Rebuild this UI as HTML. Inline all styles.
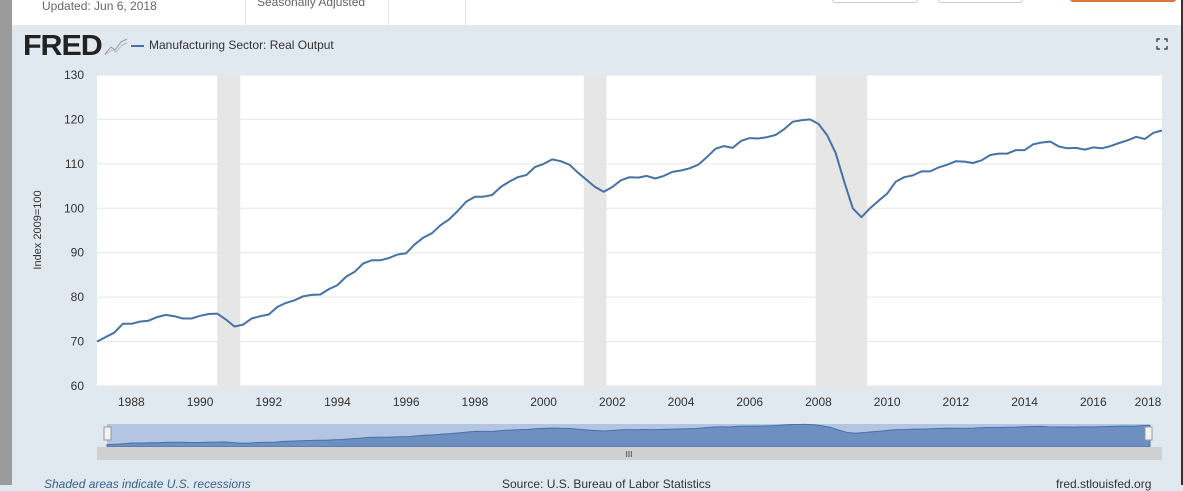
<!DOCTYPE html>
<html><head><meta charset="utf-8"><style>
body{margin:0;width:1183px;height:485px;overflow:hidden;background:#e1e9f0;font-family:"Liberation Sans",sans-serif;position:relative}
.abs{position:absolute}
</style></head><body>
<div class="abs" style="left:0;top:0;width:12px;height:485px;background:#9b9b9b"></div>
<div class="abs" style="left:1181px;top:0;width:2px;height:485px;background:#333"></div>
<div class="abs" style="left:12px;top:0;width:1169px;height:25px;background:#fff">
 <div class="abs" style="left:30px;top:-1px;font-size:12px;color:#666">Updated: Jun 6, 2018</div>
 <div class="abs" style="left:233px;top:0;width:1px;height:25px;background:#e4e4e4"></div>
 <div class="abs" style="left:245px;top:-5px;font-size:12px;color:#666">Seasonally Adjusted</div>
 <div class="abs" style="left:376px;top:0;width:1px;height:25px;background:#e4e4e4"></div>
 <div class="abs" style="left:453px;top:0;width:1px;height:25px;background:#e4e4e4"></div>
 <div class="abs" style="left:820px;top:-5px;width:84px;height:6px;border:1px solid #ccc;border-radius:3px"></div>
 <div class="abs" style="left:926px;top:-5px;width:83px;height:6px;border:1px solid #ccc;border-radius:3px"></div>
 <div class="abs" style="left:1058px;top:-5px;width:106px;height:7px;background:#d9763a;border-radius:3px"></div>
</div>
<div class="abs" style="left:23px;top:30px;font-size:29px;font-weight:bold;color:#222;letter-spacing:-1px;transform:scaleX(1.05);transform-origin:left">FRED</div>
<svg class="abs" style="left:104px;top:36px" width="24" height="20"><path d="M1 18 L7 11 L11 14 L17 6 L23 3" stroke="#999" fill="none"/><path d="M1 19 L8 14 L12 16 L18 9 L23 7" stroke="#bbb" fill="none"/></svg>
<div class="abs" style="left:131px;top:45px;width:13px;height:2px;background:#4572a7"></div>
<div class="abs" style="left:149px;top:38px;font-size:12px;color:#333">Manufacturing Sector: Real Output</div>
<svg class="abs" style="left:1156px;top:38px" width="12" height="12"><path d="M1 4V1H4M8 1H11V4M11 8V11H8M4 11H1V8" stroke="#333" fill="none" stroke-width="1.3"/></svg>
<svg id="chart" class="abs" style="left:0;top:0" width="1183" height="485"></svg>
<div class="abs" style="left:44px;top:477px;font-size:12px;font-style:italic;color:#3a5f8f">Shaded areas indicate U.S. recessions</div>
<div class="abs" style="left:502px;top:477px;font-size:12px;color:#333">Source: U.S. Bureau of Labor Statistics</div>
<div class="abs" style="left:1056px;top:477px;font-size:12px;color:#333">fred.stlouisfed.org</div>
<script>
const startYear = 1987;
const values = [70,71,72,74, 74,74.5,74.7,75.5, 76,75.7,75.2,75.2, 75.8,76.2,76.3,75, 73.4,73.8,75.2,75.7, 76.1,77.8,78.7,79.3, 80.2,80.5,80.6,81.8, 82.7,84.6,85.7,87.6, 88.3,88.3,88.8,89.6, 89.9,91.9,93.4,94.4, 96.2,97.5,99.4,101.5, 102.6,102.6,103,104.8, 106,107,107.5,109.3, 110,111,110.6,109.8, 108,106.4,104.8,103.7, 104.8,106.3,107,106.9, 107.3,106.7,107.3,108.2, 108.5,109,109.8,111.5, 113.4,114,113.6,115.2, 115.8,115.7,116,116.5, 117.8,119.5,119.8,120, 119,116.5,112.5,106, 100,98,100,101.7, 103.3,106,107,107.4, 108.3,108.3,109.2,109.8, 110.6,110.5,110.2,110.8, 112,112.3,112.3,113.1, 113.1,114.4,114.8,115, 113.9,113.5,113.6,113.2, 113.7,113.5,114,114.7, 115.3,116.1,115.6,117, 117.5];
const recessionStarts = [1990.5, 2001.17, 2007.92];
const recessionEnds = [1991.17, 2001.83, 2009.42];
const yTicks = [60,70,80,90,100,110,120,130];
const xTicks = [1988,1990,1992,1994,1996,1998,2000,2002,2004,2006,2008,2010,2012,2014,2016,2018];
const X0=97,X1=1162,Y0=386,Y1=75,xMin=1987,xMax=2018,yMin=60,yMax=130;
const xs=t=>X0+(t-xMin)/(xMax-xMin)*(X1-X0);
const ys=v=>Y0-(v-yMin)/(yMax-yMin)*(Y0-Y1);
const svg=document.getElementById('chart');const NS='http://www.w3.org/2000/svg';
function mk(tag,attrs,parent){const e=document.createElementNS(NS,tag);for(const k in attrs)e.setAttribute(k,attrs[k]);(parent||svg).appendChild(e);return e;}
let e=mk('rect',{x:X0,y:Y1,width:X1-X0,height:Y0-Y1,fill:'#fff'});


recessionStarts.forEach((s,i)=>{const r=mk('rect',{x:xs(s),y:Y1,width:xs(recessionEnds[i])-xs(s),height:Y0-Y1,fill:'#e6e6e6'});

});
yTicks.forEach(v=>{const l=mk('line',{x1:X0,x2:X1,y1:ys(v),y2:ys(v),stroke:'#e6e6e6','stroke-width':1});


const t=mk('text',{x:84,y:ys(v)+4,'text-anchor':'end','font-size':12,fill:'#333','font-family':'Liberation Sans'});t.textContent=v;

});
xTicks.forEach(yr=>{let x=xs(yr);if(x>1150)x=1148;const t=mk('text',{x:x,y:406,'text-anchor':'middle','font-size':12,fill:'#333','font-family':'Liberation Sans'});t.textContent=yr;

});
const yt=mk('text',{x:41,y:230,transform:'rotate(-90 41 230)','text-anchor':'middle','font-size':11,fill:'#333','font-family':'Liberation Sans'});yt.textContent='Index 2009=100';


const pts=values.map((v,i)=>xs(startYear+i/4).toFixed(1)+','+ys(v).toFixed(1)).join(' ');
const pl=mk('polyline',{points:pts,fill:'none',stroke:'#4572a7','stroke-width':2,'stroke-linejoin':'round'});


// navigator
const NX0=107,NX1=1150,NY0=447,NY1=424;
const nb=mk('rect',{x:NX0,y:NY1,width:NX1-NX0,height:NY0-NY1,fill:'#b3c5e2'});


const nxs=t=>NX0+(t-xMin)/(xMax-xMin)*(NX1-NX0);
const nys=v=>NY0-(v-64)/(121-64)*(NY0-NY1);
const npts=values.map((v,i)=>nxs(startYear+i/4).toFixed(1)+','+nys(v).toFixed(1)).join(' ');
const na=mk('polygon',{points:NX0+','+NY0+' '+npts+' '+NX1+','+NY0,fill:'#6e90c0',stroke:'#4572a7','stroke-width':1});


[107,1148].forEach(x=>{const h=mk('rect',{x:x-3,y:427,width:7,height:13,fill:'#f2f2f2',stroke:'#999'});

});
const sb=mk('rect',{x:97,y:447,width:1065,height:13,fill:'#d0d0d0'});


const sg=mk('text',{x:629,y:457,'text-anchor':'middle','font-size':8,fill:'#333'});sg.textContent='III';


</script>
</body></html>
